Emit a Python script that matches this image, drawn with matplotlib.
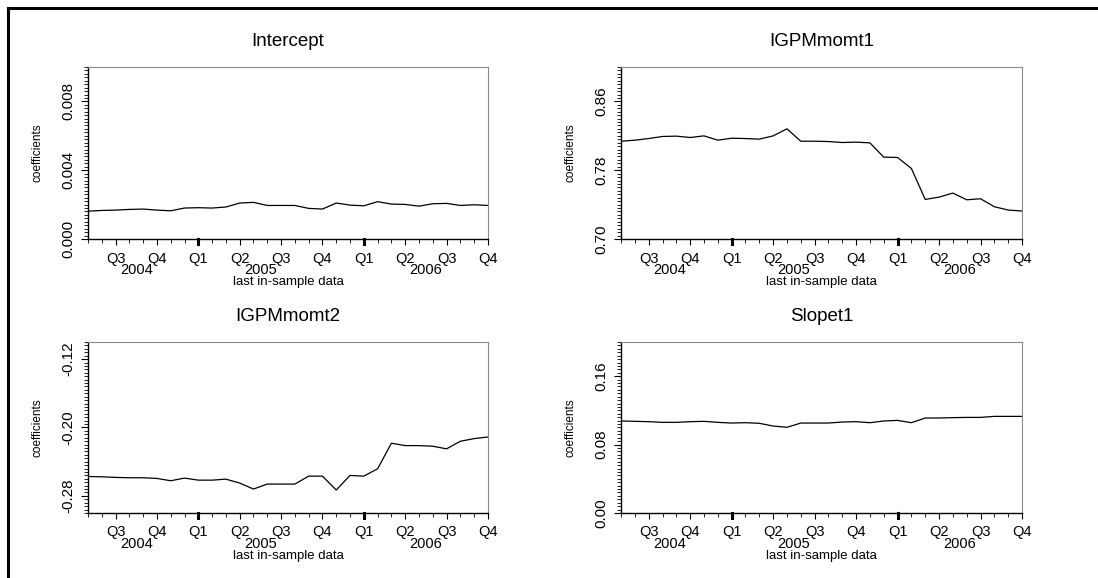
import numpy as np
import matplotlib
matplotlib.use("Agg")
import matplotlib.pyplot as plt
from matplotlib.lines import Line2D

plt.rcParams['font.family'] = ['Liberation Sans', 'DejaVu Sans']

# monthly points, May 2004 .. Oct 2006
months = list(range(30))
q_pos = [2, 5, 8, 11, 14, 17, 20, 23, 26, 29]
q_labels = ['Q3', 'Q4', 'Q1', 'Q2', 'Q3', 'Q4', 'Q1', 'Q2', 'Q3', 'Q4']
year_labels = ['2004', '2005', '2006']
year_groups = [[2, 5], [8, 11, 14, 17], [20, 23, 26, 29]]
year_breaks = [8, 20]

intercept = [0.00162, 0.00166, 0.00168, 0.00172, 0.00174, 0.00168, 0.00164, 0.00180,
             0.00182, 0.00180, 0.00186, 0.00209, 0.00213, 0.00195, 0.00195, 0.00195,
             0.00178, 0.00174, 0.00209, 0.00197, 0.00193, 0.00217, 0.00203, 0.00201,
             0.00191, 0.00205, 0.00207, 0.00195, 0.00199, 0.00195]
momt1 = [0.8137, 0.8149, 0.8168, 0.8192, 0.8196, 0.8180, 0.8199, 0.8149, 0.8172, 0.8168,
         0.8161, 0.8199, 0.8281, 0.8137, 0.8137, 0.8133, 0.8122, 0.8126, 0.8118, 0.7952,
         0.7948, 0.7820, 0.7460, 0.7487, 0.7534, 0.7456, 0.7468, 0.7375, 0.7337, 0.7325]
momt2 = [-0.2573, -0.2577, -0.2584, -0.2588, -0.2588, -0.2596, -0.2623, -0.2592, -0.2616,
         -0.2616, -0.2604, -0.2650, -0.2720, -0.2662, -0.2662, -0.2662, -0.2569, -0.2569,
         -0.2732, -0.2561, -0.2569, -0.2483, -0.2184, -0.2212, -0.2212, -0.2219, -0.2250,
         -0.2161, -0.2130, -0.2111]
slopet1 = [0.1076, 0.1072, 0.1068, 0.1060, 0.1060, 0.1068, 0.1072, 0.1060, 0.1052, 0.1056,
           0.1049, 0.1017, 0.1002, 0.1052, 0.1052, 0.1052, 0.1064, 0.1068, 0.1056, 0.1076,
           0.1083, 0.1056, 0.1111, 0.1111, 0.1115, 0.1118, 0.1118, 0.1130, 0.1130, 0.1130]

panels = [
    ('Intercept', intercept, (0.0, 0.010), [0.0, 0.004, 0.008], '%.3f'),
    ('IGPMmomt1', momt1, (0.70, 0.90), [0.70, 0.78, 0.86], '%.2f'),
    ('IGPMmomt2', momt2, (-0.30, -0.10), [-0.28, -0.20, -0.12], '%.2f'),
    ('Slopet1', slopet1, (0.0, 0.20), [0.0, 0.08, 0.16], '%.2f'),
]
boxes = [(0.0801, 0.5865, 0.3643, 0.2976), (0.5656, 0.5865, 0.3652, 0.2976),
         (0.0801, 0.1125, 0.3643, 0.2958), (0.5656, 0.1125, 0.3652, 0.2958)]

fig = plt.figure(figsize=(10.98, 5.78), dpi=100)

# outer frame (top and left edges only)
fig.add_artist(Line2D([0.0073, 1.0], [0.986, 0.986], transform=fig.transFigure,
                      color='black', lw=2.2))
fig.add_artist(Line2D([0.0073, 0.0073], [0.0, 0.986], transform=fig.transFigure,
                      color='black', lw=2.2))

for (title, vals, ylim, yt, fmt), box in zip(panels, boxes):
    ax = fig.add_axes(box)
    ax.plot(months, vals, color='black', lw=0.9)
    ax.set_xlim(0, 29)
    ax.set_ylim(*ylim)
    ax.set_title(title, fontsize=13.5, pad=15)

    ax.spines['top'].set_color('#8a8a8a')
    ax.spines['right'].set_color('#8a8a8a')
    ax.spines['left'].set_linewidth(1.0)
    ax.spines['bottom'].set_linewidth(1.0)

    # y axis
    ax.set_yticks(yt)
    ax.set_yticklabels([fmt % v for v in yt], rotation=90, va='center', fontsize=11)
    ax.set_yticks(np.linspace(ylim[0], ylim[1], 51), minor=True)
    ax.tick_params(axis='y', which='major', direction='out', length=5, width=0.8, pad=4)
    ax.tick_params(axis='y', which='minor', direction='out', length=3, width=0.6)
    ax.set_ylabel('coefficients', fontsize=8.5, labelpad=13)

    # x axis
    ax.set_xticks(q_pos)
    ax.set_xticklabels(q_labels, fontsize=10.5)
    ax.set_xticks(months, minor=True)
    ax.tick_params(axis='x', which='major', direction='out', length=4, width=0.8, pad=5)
    ax.tick_params(axis='x', which='minor', direction='out', length=3, width=0.6)
    for b in year_breaks:
        ax.plot([b, b], [0, -0.03], transform=ax.get_xaxis_transform(),
                color='black', lw=2.2, clip_on=False)
    for lab, grp in zip(year_labels, year_groups):
        ax.text(np.mean(grp), -0.14, lab, transform=ax.get_xaxis_transform(),
                ha='center', va='top', fontsize=10.5)
    ax.text(0.5, -0.215, 'last in-sample data', transform=ax.transAxes,
            ha='center', va='top', fontsize=9.5)

fig.savefig('out.png', dpi=100)
